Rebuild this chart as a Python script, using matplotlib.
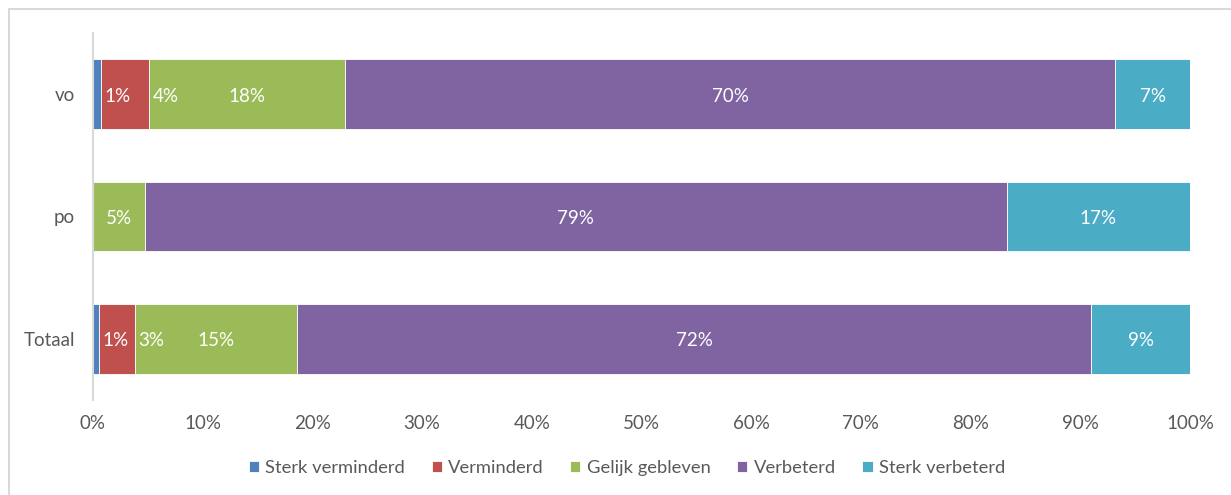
import matplotlib.pyplot as plt
from matplotlib.patches import Rectangle

plt.rcParams['font.family'] = ['Lato', 'DejaVu Sans']

# data (percentages)
categories = ['vo', 'po', 'Totaal']
series = ['Sterk verminderd', 'Verminderd', 'Gelijk gebleven', 'Verbeterd', 'Sterk verbeterd']
sterk_verminderd = [0.73, 0.0, 0.55]
verminderd = [4.38, 0.0, 3.28]
gelijk = [17.87, 4.7, 14.77]
verbeterd = [70.19, 78.6, 72.4]
sterk_verbeterd = [6.84, 16.7, 9.0]
colors = ['#4F81BD', '#C0504D', '#9BBB59', '#8064A2', '#4BACC6']
xticks = [0, 10, 20, 30, 40, 50, 60, 70, 80, 90, 100]

values = [sterk_verminderd, verminderd, gelijk, verbeterd, sterk_verbeterd]

fig = plt.figure(figsize=(12.31, 4.95), dpi=100)
ax = fig.add_axes([93 / 1231, 95 / 495, 1097 / 1231, 367 / 495])

# light frame around the chart area (only top/left are visible in the crop)
fig.patches.append(Rectangle((9 / 1231, -0.05), 1.1, 1 - 9 / 495 + 0.05,
                             transform=fig.transFigure, fill=False,
                             edgecolor='#D9D9D9', linewidth=1.5))

ypos = list(range(len(categories)))
left = [0.0] * len(categories)
for name, vals, col in zip(series, values, colors):
    ax.barh(ypos, vals, left=left, height=0.57, color=col, label=name,
            edgecolor='white', linewidth=0.6)
    for i, v in enumerate(vals):
        if v <= 0:
            continue
        if v < 4.5:
            # small segments: Excel pushed the label just past the segment
            ax.text(left[i] + v + 0.3, i + 0.015, f'{v:.0f}%', ha='left', va='center',
                    color='white', fontsize=13.5)
        else:
            ax.text(left[i] + v / 2, i + 0.015, f'{v:.0f}%', ha='center', va='center',
                    color='white', fontsize=13.5)
    left = [l + v for l, v in zip(left, vals)]

ax.set_xlim(0, 100)
ax.set_ylim(2.5, -0.5)
ax.set_yticks(ypos)
ax.set_yticklabels(categories)
ax.set_xticks(xticks)
ax.set_xticklabels([f'{t}%' for t in xticks])
ax.tick_params(axis='both', length=0, labelsize=13.5, labelcolor='#595959')
ax.tick_params(axis='y', pad=13)
ax.tick_params(axis='x', pad=11)

for s in ['top', 'right', 'bottom']:
    ax.spines[s].set_visible(False)
ax.spines['left'].set_color('#D9D9D9')
ax.spines['left'].set_linewidth(1.5)

fig.legend(loc='center', bbox_to_anchor=(627 / 1231, 1 - 468 / 495), ncol=5,
           frameon=False, fontsize=13.2, handlelength=0.55, handleheight=0.55,
           handletextpad=0.35, columnspacing=1.45, labelcolor='#595959')

fig.savefig('out.png', dpi=100)
